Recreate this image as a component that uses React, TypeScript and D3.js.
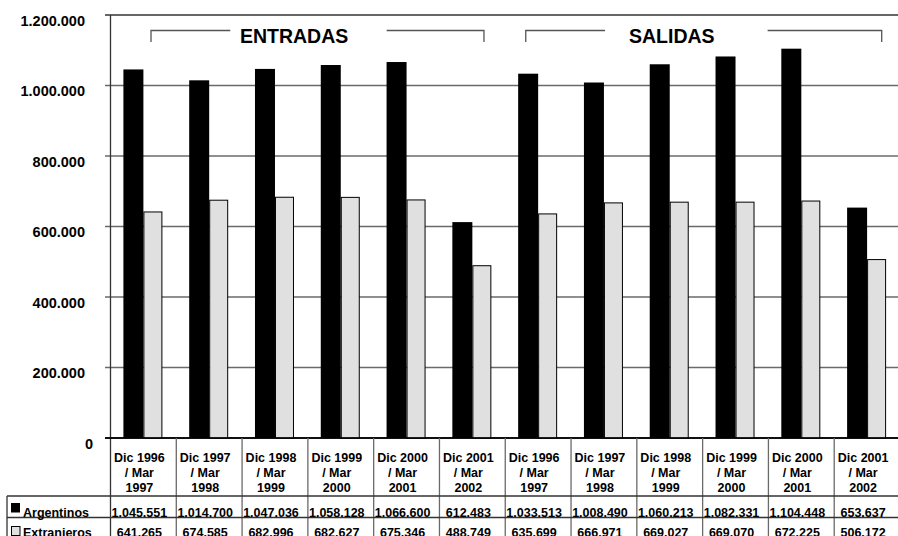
import React from "react";
import * as d3 from "d3";

const categories: string[][] = [
  ["Dic 1996", "/ Mar", "1997"],
  ["Dic 1997", "/ Mar", "1998"],
  ["Dic 1998", "/ Mar", "1999"],
  ["Dic 1999", "/ Mar", "2000"],
  ["Dic 2000", "/ Mar", "2001"],
  ["Dic 2001", "/ Mar", "2002"],
  ["Dic 1996", "/ Mar", "1997"],
  ["Dic 1997", "/ Mar", "1998"],
  ["Dic 1998", "/ Mar", "1999"],
  ["Dic 1999", "/ Mar", "2000"],
  ["Dic 2000", "/ Mar", "2001"],
  ["Dic 2001", "/ Mar", "2002"],
];
const argentinos = [1045551, 1014700, 1047036, 1058128, 1066600, 612483, 1033513, 1008490, 1060213, 1082331, 1104448, 653637];
const extranjeros = [641265, 674585, 682996, 682627, 675346, 488749, 635699, 666971, 669027, 669070, 672225, 506172];
const yTicks = [0, 200000, 400000, 600000, 800000, 1000000, 1200000];
const seriesNames = ["Argentinos", "Extranjeros"];
const groups = [
  { label: "ENTRADAS", from: 0, to: 5 },
  { label: "SALIDAS", from: 6, to: 11 },
];

const W = 898;
const H = 536;
const FONT = "'Liberation Sans', Arial, sans-serif";
const loc = d3.formatLocale({ decimal: ",", thousands: ".", grouping: [3], currency: ["", ""] });
const fmt = loc.format(",d");

export default function App() {
  const left = 110.5;
  const right = 900;
  const top = 15;
  const zeroY = 438;
  const x = d3.scaleBand<number>().domain(categories.map((_, i) => i)).range([left, right]).padding(0);
  const y = d3.scaleLinear().domain([0, 1200000]).range([zeroY, top]);
  const bw = x.bandwidth();
  const inner = d3.scaleBand<string>().domain(seriesNames).range([0, bw]).paddingInner(0).paddingOuter(0.645);
  const iw = inner.bandwidth();
  const grid = "#6a6a6a";
  const rowA = 496;
  const rowB = 517.5;

  // bracket geometry relative to bands
  const brackets = [
    { l1: x(0)! + 40.5, l2: x(1)! + 54, r1: x(4)! + 13, r2: x(5)! + 44.5, cx: x(2)! + 52 },
    { l1: x(6)! + 20.5, l2: x(7)! + 34, r1: x(9)! + 65, r2: x(11)! + 47.5, cx: x(8)! + 35 },
  ];

  return (
    <svg width={W} height={H} style={{ position: "absolute", left: 0, top: 0, background: "#fff" }} fontFamily={FONT}>
      <rect x={0} y={0} width={W} height={H} fill="#fff" />
      {/* gridlines */}
      {yTicks.map((t) => (
        <line key={"g" + t} x1={105} x2={right} y1={y(t)} y2={y(t)} stroke={t === 0 ? "#000" : t === 1200000 ? "#333" : grid} strokeWidth={t === 0 ? 1.5 : 1.3} />
      ))}
      {yTicks.map((t) => (
        <text key={"t" + t} x={t === 0 ? 93 : 85} y={y(t) + 10.5} textAnchor="end" fontSize={14.5} fontWeight="bold">
          {fmt(t)}
        </text>
      ))}
      {/* bars */}
      {categories.map((_, i) => (
        <g key={"b" + i} transform={`translate(${x(i)},0)`}>
          <rect x={inner("Argentinos")} y={y(argentinos[i])} width={iw} height={zeroY - y(argentinos[i])} fill="#000" />
          <rect x={inner("Extranjeros")! + 0.5} y={y(extranjeros[i])} width={iw - 2} height={zeroY - y(extranjeros[i])} fill="#e0e0e0" stroke="#000" strokeWidth={1} />
        </g>
      ))}
      {/* axis line */}
      <line x1={left} x2={left} y1={top} y2={H} stroke="#333" strokeWidth={1.3} />
      <line x1={105} x2={right} y1={zeroY} y2={zeroY} stroke="#000" strokeWidth={1.5} />
      {/* table separators */}
      {categories.map((_, i) =>
        i === 0 ? null : (
          <line key={"s" + i} x1={x(i)!} x2={x(i)!} y1={zeroY} y2={H} stroke={grid} strokeWidth={1.3} />
        )
      )}
      <line x1={7} x2={right} y1={rowA} y2={rowA} stroke="#333" strokeWidth={1.3} />
      <line x1={7} x2={right} y1={rowB} y2={rowB} stroke="#333" strokeWidth={1.3} />
      <line x1={7} x2={7} y1={rowA} y2={H} stroke="#333" strokeWidth={1.3} />
      {/* category labels */}
      {categories.map((lines, i) => (
        <text key={"c" + i} textAnchor="middle" fontSize={12.5} fontWeight="bold">
          {lines.map((l, j) => (
            <tspan key={j} x={x(i)! + bw / 2 - 4} y={461.5 + j * 15.3}>
              {l}
            </tspan>
          ))}
        </text>
      ))}
      {/* table values */}
      {argentinos.map((v, i) => (
        <text key={"va" + i} x={x(i)! + bw / 2 - 4} y={516.5} textAnchor="middle" fontSize={12.5} fontWeight="bold">
          {fmt(v)}
        </text>
      ))}
      {extranjeros.map((v, i) => (
        <text key={"ve" + i} x={x(i)! + bw / 2 - 4} y={536.5} textAnchor="middle" fontSize={12.5} fontWeight="bold">
          {fmt(v)}
        </text>
      ))}
      {/* legend */}
      <rect x={11} y={503} width={9} height={9.5} fill="#000" />
      <text x={23} y={516.5} fontSize={12.5} fontWeight="bold">{seriesNames[0]}</text>
      <rect x={11.5} y={526.5} width={8.5} height={9} fill="#e0e0e0" stroke="#000" strokeWidth={1} />
      <text x={23} y={537} fontSize={12.5} fontWeight="bold">{seriesNames[1]}</text>
      {/* group headers */}
      {groups.map((g, k) => {
        const b = brackets[k];
        return (
          <g key={"h" + k}>
            <path d={`M${b.l1},42V30.5H${b.l2}`} fill="none" stroke="#555" strokeWidth={1.3} />
            <path d={`M${b.r1},30.5H${b.r2}V42`} fill="none" stroke="#555" strokeWidth={1.3} />
            <text x={b.cx} y={43} textAnchor="middle" fontSize={19.5} fontWeight="bold">
              {g.label}
            </text>
          </g>
        );
      })}
    </svg>
  );
}
